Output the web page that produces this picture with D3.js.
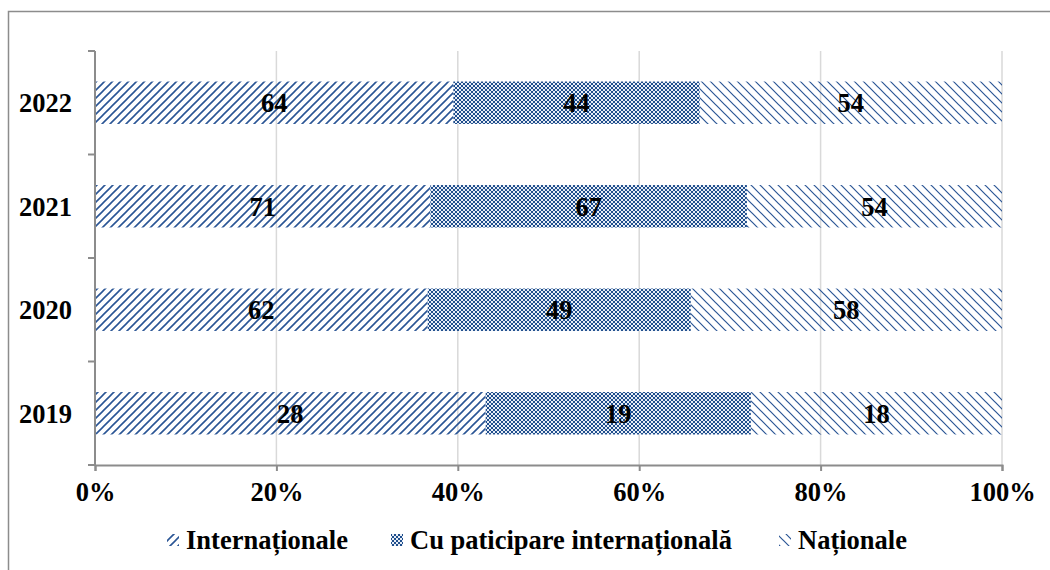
<!DOCTYPE html>
<html>
<head>
<meta charset="utf-8">
<script src="https://cdn.jsdelivr.net/npm/d3@7"></script>
<style>
  body { margin: 0; background: #fff; }
  text { font-family: "Liberation Serif", "Times New Roman", serif; font-weight: bold; fill: #000; }
</style>
</head>
<body>
<div id="chart"></div>
<script>
var years = ["2022", "2021", "2020", "2019"];
var seriesNames = ["Internaționale", "Cu paticipare internațională", "Naționale"];
var internationale = [64, 71, 62, 28];
var cuParticipare = [44, 67, 49, 19];
var nationale = [54, 54, 58, 18];
var xTicks = [0, 0.2, 0.4, 0.6, 0.8, 1];

var svgWidth = 1050, svgHeight = 570;
var margin = { top: 51, right: 48, bottom: 105, left: 95 };
var width = svgWidth - margin.left - margin.right;
var height = svgHeight - margin.top - margin.bottom;
var fontSize = "26.5px";

var svg = d3.select("#chart").append("svg")
  .attr("width", svgWidth)
  .attr("height", svgHeight);

// patterns
var defs = svg.append("defs");
var blue = "#2a5595";

var p1 = defs.append("pattern").attr("id", "pUp")
  .attr("patternUnits", "userSpaceOnUse").attr("width", 8).attr("height", 8);
p1.append("path").attr("d", "M-2,10 L10,-2 M-2,2 L2,-2 M6,10 L10,6")
  .attr("stroke", blue).attr("stroke-width", 1.6).attr("fill", "none");

var p2 = defs.append("pattern").attr("id", "pCheck")
  .attr("patternUnits", "userSpaceOnUse").attr("width", 4).attr("height", 4);
p2.append("rect").attr("width", 4).attr("height", 4).attr("fill", "#e8eef7");
p2.append("rect").attr("width", 2).attr("height", 2).attr("fill", "#1f4e8c");
p2.append("rect").attr("x", 2).attr("y", 2).attr("width", 2).attr("height", 2).attr("fill", "#1f4e8c");

var p3 = defs.append("pattern").attr("id", "pDown")
  .attr("patternUnits", "userSpaceOnUse").attr("width", 9).attr("height", 9);
p3.append("path").attr("d", "M-2,-2 L11,11 M-2,7 L2,11 M7,-2 L11,2")
  .attr("stroke", blue).attr("stroke-width", 1.2).attr("fill", "none");

var fills = ["url(#pUp)", "url(#pCheck)", "url(#pDown)"];

// outer border
svg.append("rect")
  .attr("x", 8.5).attr("y", 11.5)
  .attr("width", svgWidth + 20).attr("height", svgHeight + 20)
  .attr("fill", "none").attr("stroke", "#8c8c8c").attr("stroke-width", 1.5);

var chartGroup = svg.append("g")
  .attr("transform", `translate(${margin.left}, ${margin.top})`);

var xScale = d3.scaleLinear().domain([0, 1]).range([0, width]);
var yScale = d3.scaleBand().domain(years).range([0, height]).paddingInner(0.59).paddingOuter(0.295);
var yBand = d3.scaleBand().domain(years).range([0, height]);

// gridlines
chartGroup.selectAll(".grid")
  .data(xTicks.slice(1))
  .enter().append("line")
  .attr("x1", d => xScale(d)).attr("x2", d => xScale(d))
  .attr("y1", 0).attr("y2", height)
  .attr("stroke", "#d9d9d9").attr("stroke-width", 1.5);

// stacked data
var table = years.map(function(y, i) {
  return { year: y, a: internationale[i], b: cuParticipare[i], c: nationale[i] };
});
var stack = d3.stack().keys(["a", "b", "c"]).offset(d3.stackOffsetExpand);
var layers = stack(table);

layers.forEach(function(layer, li) {
  chartGroup.selectAll(".bar" + li)
    .data(layer)
    .enter().append("rect")
    .attr("x", d => xScale(d[0]))
    .attr("width", d => xScale(d[1]) - xScale(d[0]))
    .attr("y", d => yScale(d.data.year))
    .attr("height", yScale.bandwidth())
    .attr("fill", fills[li]);
});

layers.forEach(function(layer, li) {
  chartGroup.selectAll(".lbl" + li)
    .data(layer)
    .enter().append("text")
    .attr("x", d => xScale((d[0] + d[1]) / 2))
    .attr("y", d => yScale(d.data.year) + yScale.bandwidth() / 2)
    .attr("dy", "0.35em")
    .attr("text-anchor", "middle")
    .attr("font-size", fontSize)
    .text(d => d.data[layer.key]);
});

// axes
var xAxis = d3.axisBottom(xScale).tickValues(xTicks).tickFormat(d3.format(".0%")).tickSize(6).tickPadding(11);
var gx = chartGroup.append("g")
  .attr("transform", `translate(0, ${height})`)
  .call(xAxis);
gx.select(".domain").attr("stroke", "#8c8c8c").attr("stroke-width", 2);
gx.selectAll(".tick line").attr("stroke", "#8c8c8c").attr("stroke-width", 2);
gx.selectAll("text").attr("font-size", fontSize).attr("font-family", null);

var gy = chartGroup.append("g");
gy.append("line").attr("x1", 0).attr("x2", 0).attr("y1", 0).attr("y2", height)
  .attr("stroke", "#8c8c8c").attr("stroke-width", 2);
gy.selectAll(".ytick")
  .data(years.concat(["end"]))
  .enter().append("line")
  .attr("x1", -7).attr("x2", 0)
  .attr("y1", (d, i) => i < years.length ? yBand(d) : height)
  .attr("y2", (d, i) => i < years.length ? yBand(d) : height)
  .attr("stroke", "#8c8c8c").attr("stroke-width", 2);
gy.selectAll(".ylab")
  .data(years)
  .enter().append("text")
  .attr("x", -23)
  .attr("y", d => yBand(d) + yBand.bandwidth() / 2)
  .attr("dy", "0.35em")
  .attr("text-anchor", "end")
  .attr("font-size", fontSize)
  .text(d => d);

// legend
var legendX = [167, 391, 779];
var legend = svg.append("g").attr("transform", "translate(0, 540)");
seriesNames.forEach(function(name, i) {
  legend.append("rect")
    .attr("x", legendX[i]).attr("y", -6)
    .attr("width", 12).attr("height", 12)
    .attr("fill", fills[i]);
  legend.append("text")
    .attr("x", legendX[i] + 19)
    .attr("y", 0)
    .attr("dy", "0.35em")
    .attr("font-size", fontSize)
    .text(name);
});
</script>
</body>
</html>
